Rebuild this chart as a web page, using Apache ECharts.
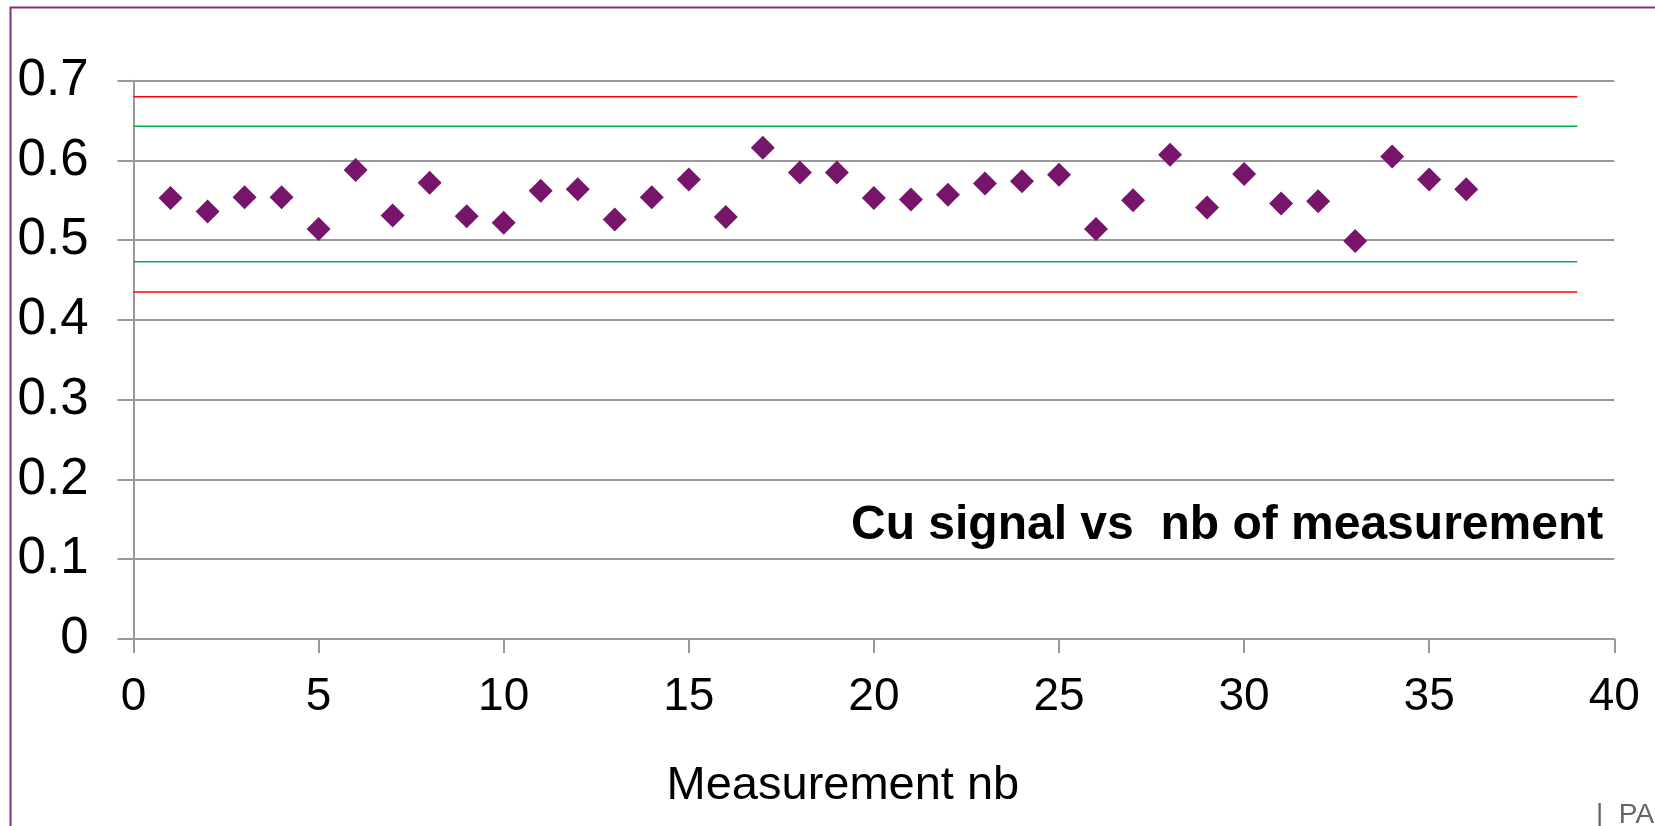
<!DOCTYPE html>
<html>
<head>
<meta charset="utf-8">
<script src="https://cdn.jsdelivr.net/npm/echarts@6/dist/echarts.min.js"></script>
<style>
html,body{margin:0;padding:0;background:#fff;}
#chart{width:1655px;height:826px;}
</style>
</head>
<body>
<div id="chart"></div>
<script>
// Measurement numbers and Cu signal values
const measurementNb = [1,2,3,4,5,6,7,8,9,10,11,12,13,14,15,16,17,18,19,20,21,22,23,24,25,26,27,28,29,30,31,32,33,34,35,36];
const cuSignal = [0.553,0.536,0.554,0.554,0.514,0.588,0.531,0.572,0.530,0.522,0.562,0.564,0.526,0.554,0.576,0.529,0.616,0.585,0.585,0.553,0.551,0.557,0.571,0.574,0.582,0.514,0.550,0.607,0.541,0.583,0.546,0.549,0.499,0.605,0.576,0.564];
// Control limits (upper/lower) and their x extent
const limitX = [0, 39];
const upperRed = 0.680;
const upperGreen = 0.643;
const lowerGreen = 0.473;
const lowerRed = 0.435;
const titleText = 'Cu signal vs  nb of measurement';
const xAxisName = 'Measurement nb';
const footerText = '|  PAGE';

const FONT = "'Liberation Sans', Arial, sans-serif";
const chart = echarts.init(document.getElementById('chart'), null, {renderer: 'canvas'});

function limitLine(v, color, name) {
  return {
    name: name,
    type: 'line',
    data: limitX.map(x => [x, v]),
    symbol: 'none',
    silent: true,
    lineStyle: {color: color, width: 1.5},
    z: 2,
    animation: false
  };
}

const option = {
  backgroundColor: '#ffffff',
  animation: false,
  title: {
    text: titleText,
    left: 851,
    top: 502,
    padding: 0,
    textStyle: {fontFamily: FONT, fontSize: 48, fontWeight: 'bold', color: '#000'}
  },
  grid: {left: 133.5, right: 40.7, top: 80.7, bottom: 187, containLabel: false},
  xAxis: {
    type: 'value',
    min: 0, max: 40, interval: 5,
    name: xAxisName,
    nameLocation: 'middle',
    nameGap: 124,
    nameTextStyle: {fontFamily: FONT, fontSize: 47, color: '#000', padding: [0, 62, 0, 0]},
    axisLine: {show: true, onZero: false, lineStyle: {color: '#999', width: 2}},
    axisTick: {show: true, inside: false, length: 14, lineStyle: {color: '#999', width: 2}},
    axisLabel: {fontFamily: FONT, fontSize: 46, color: '#000', margin: 35},
    splitLine: {show: false}
  },
  yAxis: {
    type: 'value',
    min: 0, max: 0.7, interval: 0.1,
    axisLine: {show: true, lineStyle: {color: '#999', width: 2}},
    axisTick: {show: true, inside: false, length: 16, lineStyle: {color: '#999', width: 2}},
    axisLabel: {fontFamily: FONT, fontSize: 51, color: '#000', margin: 45,
      formatter: v => (Math.round(v * 10) / 10).toString()},
    splitLine: {show: true, lineStyle: {color: '#999', width: 2}}
  },
  series: [
    limitLine(upperRed, '#ff0000', 'UCL'),
    limitLine(upperGreen, '#00b050', 'UWL'),
    limitLine(lowerGreen, '#00b050', 'LWL'),
    limitLine(lowerRed, '#ff0000', 'LCL'),
    {
      name: 'Cu signal',
      type: 'scatter',
      data: measurementNb.map((x, i) => [x, cuSignal[i]]),
      symbol: 'diamond',
      symbolSize: 24,
      itemStyle: {color: '#77156b', opacity: 1},
      z: 5
    }
  ],
  graphic: [
    {
      type: 'rect',
      left: 8, top: 5,
      shape: {width: 1700, height: 900},
      style: {fill: 'none', stroke: '#80307f', lineWidth: 2},
      silent: true,
      z: 100
    },
    {
      type: 'text',
      left: 1596, top: 801,
      style: {text: footerText, fontFamily: FONT, fontSize: 28, fill: '#666'},
      silent: true
    }
  ]
};
chart.setOption(option);
</script>
</body>
</html>
